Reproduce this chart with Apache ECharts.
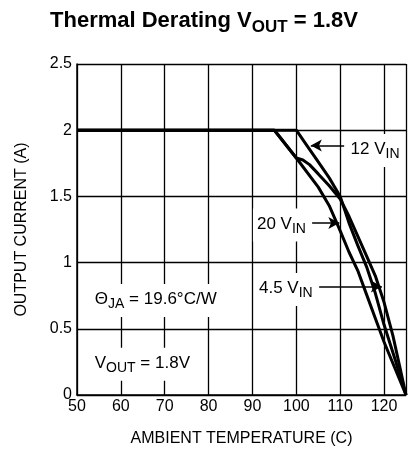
<!DOCTYPE html>
<html><head><meta charset="utf-8">
<script src="https://cdn.jsdelivr.net/npm/echarts@6/dist/echarts.min.js"></script>
<style>html,body{margin:0;padding:0;background:#fff}#c{width:408px;height:452px}</style>
</head><body><div id="c"></div>
<script>
const FONT = '"Liberation Sans", Arial, Helvetica, sans-serif';

// Output current (A) vs ambient temperature (C)
const vin12 = [[50,2],[100,2],[102.5,1.88],[105,1.76],[107.5,1.64],[110,1.5],[112,1.3],[114,1.13],[116,0.97],[118,0.77],[120,0.53],[122.5,0.27],[125,0]];
const vin20 = [[50,2],[95,2],[100,1.79],[105,1.57],[107.5,1.43],[110,1.24],[112,1.08],[114,0.94],[116,0.76],[118,0.58],[120,0.4],[122.5,0.2],[125,0]];
const vin45 = [[50,2],[95,2],[100,1.79],[101.5,1.775],[103,1.74],[105,1.67],[107.5,1.58],[110,1.48],[112,1.35],[114,1.2],[116,1.05],[118,0.9],[120,0.7],[122,0.45],[125,0]];

// annotation texts (data coordinates of label centres)
const noteTexts = ['{m|12 V}{s|IN}', '{m|20 V}{s|IN}', '{m|4.5 V}{s|IN}', '{m|Θ}{s|JA}{m| = 19.6°C/W}', '{m|V}{s|OUT}{m| = 1.8V}'];
const notePos = [[117.95,1.847],[96.6,1.284],[97.6,0.796],[67.95,0.713],[64.9,0.233]];
// arrows: [from, to]
const arrows = [[[110.9,1.884],[103.3,1.884]], [[103.6,1.30],[109.8,1.30]], [[105.2,0.82],[119.5,0.82]]];

const rich = {
  m: {fontSize: 17, fontFamily: FONT, color: '#000', lineHeight: 19, verticalAlign: 'top'},
  s: {fontSize: 14, fontFamily: FONT, color: '#000', lineHeight: 15, padding: [8,0,0,0]}
};

const chart = echarts.init(document.getElementById('c'));
const lineStyle = {color: '#000', width: 3};
chart.setOption({
  animation: false,
  title: {
    text: '{m|Thermal Derating V}{s|OUT}{m| = 1.8V}',
    left: 'center', top: 5,
    textStyle: {
      rich: {
        m: {fontSize: 22, fontWeight: 'bold', fontFamily: FONT, color: '#000', lineHeight: 24, verticalAlign: 'top'},
        s: {fontSize: 17, fontWeight: 'bold', fontFamily: FONT, color: '#000', lineHeight: 18, padding: [10,0,0,0]}
      }
    }
  },
  grid: {left: 77, right: 2, top: 64, bottom: 55},
  xAxis: {
    type: 'value', min: 50, max: 125, interval: 10,
    name: 'AMBIENT TEMPERATURE (C)', nameLocation: 'middle', nameGap: 36,
    nameTextStyle: {fontSize: 16, fontFamily: FONT, color: '#000'},
    axisLine: {lineStyle: {color: '#000', width: 1.5}},
    axisTick: {show: false},
    axisLabel: {fontSize: 16, fontFamily: FONT, color: '#000', margin: 4, showMaxLabel: false},
    splitLine: {show: true, lineStyle: {color: '#000', width: 1.3}}
  },
  yAxis: {
    type: 'value', min: 0, max: 2.5, interval: 0.5,
    name: 'OUTPUT CURRENT (A)', nameLocation: 'middle', nameGap: 47,
    nameTextStyle: {fontSize: 16, fontFamily: FONT, color: '#000'},
    axisLine: {show: true, lineStyle: {color: '#000', width: 1.5}},
    axisTick: {show: false},
    axisLabel: {fontSize: 16, fontFamily: FONT, color: '#000', margin: 5},
    splitLine: {show: true, lineStyle: {color: '#000', width: 1.3}}
  },
  series: [
    {type: 'line', name: '12 VIN', data: vin12, showSymbol: false, lineStyle, z: 3},
    {type: 'line', name: '20 VIN', data: vin20, showSymbol: false, lineStyle, z: 3},
    {type: 'line', name: '4.5 VIN', data: vin45, showSymbol: false, lineStyle, z: 3,
     markPoint: {
       symbolSize: 0, silent: true,
       data: noteTexts.map((t, i) => ({
         coord: notePos[i],
         label: {show: true, position: 'inside', formatter: t, backgroundColor: '#fff', padding: [7,4], rich}
       }))
     },
     markLine: {
       silent: true, symbol: ['none', 'arrow'], symbolSize: [9, 11],
       label: {show: false},
       lineStyle: {color: '#000', width: 1.5, type: 'solid'},
       data: arrows.map(a => [{coord: a[0]}, {coord: a[1]}])
     }}
  ]
});
</script></body></html>
